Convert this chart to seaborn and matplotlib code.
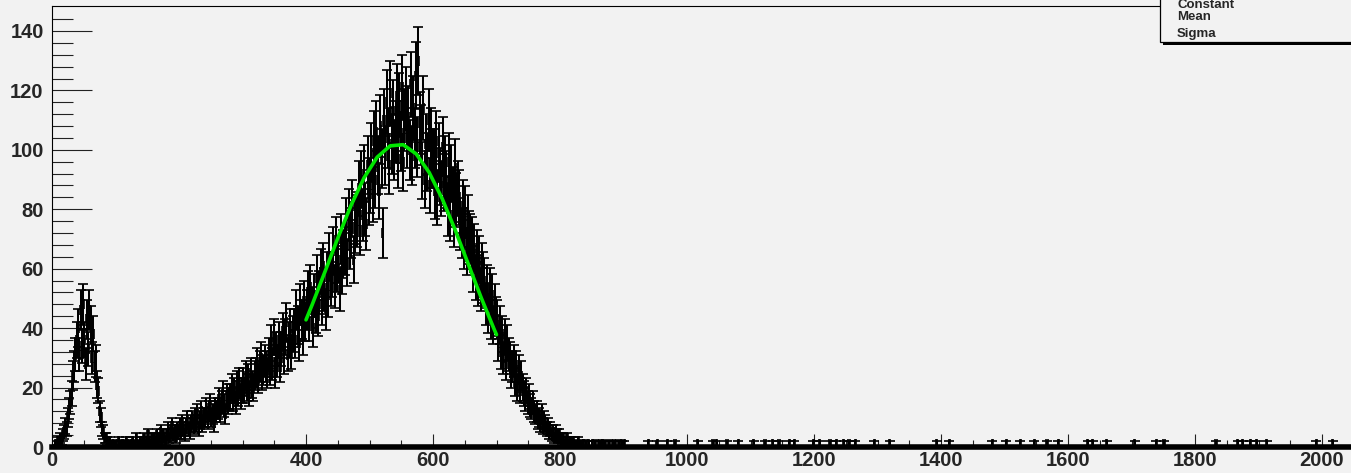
import numpy as np
import pandas as pd
import matplotlib
matplotlib.use("Agg")
import matplotlib.pyplot as plt
import seaborn as sns
from matplotlib.ticker import MultipleLocator, FixedLocator
from matplotlib.patches import Rectangle

# ---------------- data ----------------
BIN_WIDTH = 2
X_MAX = 2048
# counts per 2-unit bin from x=0 to x=880
counts_main = [
    0, 0, 1, 0, 2, 1, 3, 2, 4, 5,
    7, 6, 10, 13, 15, 18, 24, 27, 31, 36,
    40, 31, 46, 34, 48, 36, 28, 43, 33, 46,
    41, 30, 38, 27, 29, 21, 19, 12, 10, 6,
    5, 3, 3, 2, 1, 2, 0, 1, 1, 0,
    1, 0, 2, 1, 0, 1, 1, 0, 2, 1,
    0, 1, 1, 2, 0, 1, 3, 1, 0, 2,
    1, 2, 3, 1, 2, 4, 2, 1, 3, 2,
    3, 2, 4, 1, 3, 5, 2, 4, 3, 2,
    4, 6, 3, 5, 7, 4, 5, 3, 6, 5,
    7, 5, 8, 6, 4, 7, 9, 6, 5, 8,
    9, 7, 10, 8, 11, 6, 9, 12, 8, 10,
    10, 13, 9, 12, 14, 10, 11, 8, 13, 12,
    13, 16, 12, 15, 18, 14, 11, 17, 15, 16,
    17, 20, 16, 19, 15, 21, 18, 22, 17, 19,
    22, 19, 24, 20, 23, 18, 25, 21, 20, 24,
    25, 28, 23, 27, 30, 24, 26, 29, 27, 25,
    31, 26, 35, 28, 37, 25, 33, 29, 36, 27,
    33, 39, 30, 37, 42, 31, 36, 40, 32, 38,
    40, 36, 46, 41, 35, 48, 43, 37, 49, 42,
    46, 52, 42, 54, 47, 40, 51, 45, 57, 44,
    52, 59, 48, 61, 53, 46, 58, 51, 64, 55,
    58, 66, 54, 69, 60, 63, 53, 70, 59, 65,
    66, 75, 62, 78, 68, 72, 81, 63, 74, 77,
    76, 87, 73, 90, 78, 92, 80, 75, 95, 84,
    88, 99, 85, 103, 90, 106, 95, 86, 108, 97,
    72, 110, 98, 116, 104, 95, 119, 102, 113, 100,
    106, 118, 97, 115, 103, 121, 96, 110, 117, 104,
    111, 100, 122, 98, 114, 104, 125, 101, 130, 109,
    105, 93, 114, 90, 102, 96, 110, 88, 104, 97,
    97, 86, 103, 84, 99, 91, 87, 101, 89, 95,
    90, 80, 96, 78, 92, 85, 76, 94, 83, 87,
    84, 75, 72, 81, 68, 79, 66, 76, 71, 70,
    69, 60, 67, 57, 65, 55, 63, 53, 61, 58,
    56, 48, 54, 45, 53, 43, 51, 41, 48, 44,
    43, 35, 41, 32, 38, 30, 37, 28, 35, 31,
    30, 25, 27, 29, 22, 27, 20, 26, 19, 24,
    20, 18, 16, 19, 15, 17, 14, 13, 15, 12,
    11, 12, 9, 10, 8, 11, 7, 9, 8, 6,
    7, 5, 6, 4, 5, 3, 5, 4, 3, 4,
    3, 2, 3, 1, 2, 3, 1, 2, 2, 1,
    2, 1, 0, 1, 2, 1, 0, 1, 1, 0,
    1, 0, 1, 0, 0, 1, 0, 1, 0, 0,
    1, 0, 1, 1, 0, 1, 0, 0, 1, 0,
]
# single-count bins in the sparse tail (x positions)
tail_hits = [882, 887, 893, 897, 901, 938, 953, 968, 980, 1017, 1040, 1047,
             1062, 1081, 1104, 1122, 1134, 1145, 1160, 1168, 1198, 1209,
             1224, 1235, 1247, 1254, 1265, 1295, 1318, 1393, 1412, 1480,
             1502, 1525, 1547, 1566, 1585, 1630, 1638, 1660, 1705, 1739,
             1750, 1833, 1867, 1874, 1886, 1897, 1912, 1991, 2017]
# Gaussian fit parameters and range
fit_constant = 102.0
fit_mean = 545.0
fit_sigma = 110.0
fit_xmin, fit_xmax = 400.0, 700.0
fit_npx = 100
stats_labels = ["Constant", "Mean", "Sigma"]
x_ticks = [0, 200, 400, 600, 800, 1000, 1200, 1400, 1600, 1800, 2000]
y_ticks = [0, 20, 40, 60, 80, 100, 120, 140]
Y_MAX = 148.4

# ---------------- build histogram ----------------
n_bins = X_MAX // BIN_WIDTH
counts = np.zeros(n_bins)
counts[:len(counts_main)] = counts_main
for h in tail_hits:
    counts[int(h // BIN_WIDTH)] += 1
centers = np.arange(n_bins) * BIN_WIDTH + BIN_WIDTH / 2
hist = pd.DataFrame({"x": centers, "n": counts, "err": np.sqrt(counts)})
filled = hist[hist["n"] > 0]

step = X_MAX / fit_npx
fx = np.arange(0, X_MAX + step, step)
fx = fx[(fx >= fit_xmin) & (fx <= fit_xmax)]
fx = np.concatenate([[fit_xmin], fx, [fit_xmax]])
fit = pd.DataFrame({"x": fx,
                    "y": fit_constant * np.exp(-0.5 * ((fx - fit_mean) / fit_sigma) ** 2)})

# ---------------- style ----------------
BG = "#f2f2f2"
sns.set_style("ticks", {"axes.facecolor": BG, "figure.facecolor": BG,
                        "axes.edgecolor": "black"})
plt.rcParams["font.family"] = ["Liberation Sans", "DejaVu Sans"]
plt.rcParams["font.weight"] = "bold"

W, H = 1351, 473
fig = plt.figure(figsize=(W / 100, H / 100), dpi=100)
left = 52 / W
bottom = (H - 447) / H
top = (H - 6) / H
width = (X_MAX * 0.635) / W
ax = fig.add_axes([left, bottom, width, top - bottom])

# empty bins: flat marks along zero
ax.errorbar(hist["x"], hist["n"], xerr=BIN_WIDTH / 2, fmt="none",
            ecolor="black", elinewidth=1.5, zorder=2)
# filled bins with statistical error bars
ax.errorbar(filled["x"], filled["n"], xerr=BIN_WIDTH / 2, yerr=filled["err"],
            fmt="none", ecolor="black", elinewidth=1.45, capsize=3.5,
            capthick=1.2, zorder=2)
sns.lineplot(data=fit, x="x", y="y", ax=ax, color="#00e600", linewidth=2.6,
             zorder=3, sort=False)

ax.set_xlim(0, X_MAX)
ax.set_ylim(0, Y_MAX)
ax.set_xlabel("")
ax.set_ylabel("")
ax.xaxis.set_major_locator(FixedLocator(x_ticks))
ax.xaxis.set_minor_locator(MultipleLocator(50))
ax.yaxis.set_major_locator(FixedLocator(y_ticks))
ax.yaxis.set_minor_locator(FixedLocator(list(range(0, 145, 4))))
ax.set_xticklabels([str(t) for t in x_ticks])
ax.set_yticklabels([str(t) for t in y_ticks])
ax.tick_params(axis="y", which="major", direction="in", length=29, width=0.8,
               pad=6, labelsize=14.5, color="#222222")
ax.tick_params(axis="y", which="minor", direction="in", length=15, width=0.8,
               color="#222222")
ax.tick_params(axis="x", which="major", direction="in", length=9.5, width=0.8,
               pad=3, labelsize=14.5, color="#222222")
ax.tick_params(axis="x", which="minor", direction="in", length=5, width=0.8,
               color="#222222")
for lab in ax.get_xticklabels() + ax.get_yticklabels():
    lab.set_fontweight("bold")
ax.spines["left"].set_linewidth(0.8)
ax.spines["top"].set_linewidth(0.8)
ax.spines["bottom"].set_linewidth(4)
ax.spines["right"].set_visible(False)

# ---------------- stats box ----------------
bx0, by_bottom = 1160, 42
fig.add_artist(Rectangle(((bx0 + 3) / W, (H - by_bottom - 3) / H),
                         (W - bx0) / W, (by_bottom + 10) / H,
                         transform=fig.transFigure, facecolor="black",
                         edgecolor="none", zorder=5))
fig.add_artist(Rectangle((bx0 / W, (H - by_bottom) / H),
                         (W - bx0 + 10) / W, (by_bottom + 10) / H,
                         transform=fig.transFigure, facecolor=BG,
                         edgecolor="black", linewidth=0.9, zorder=6))
for lab, ypx in zip(stats_labels, [4.5, 17.5, 34]):
    fig.text(1177 / W, (H - ypx) / H, lab, fontsize=9.5, fontweight="bold",
             va="center", ha="left", zorder=7)

fig.savefig("out.png", dpi=100, facecolor=BG)
